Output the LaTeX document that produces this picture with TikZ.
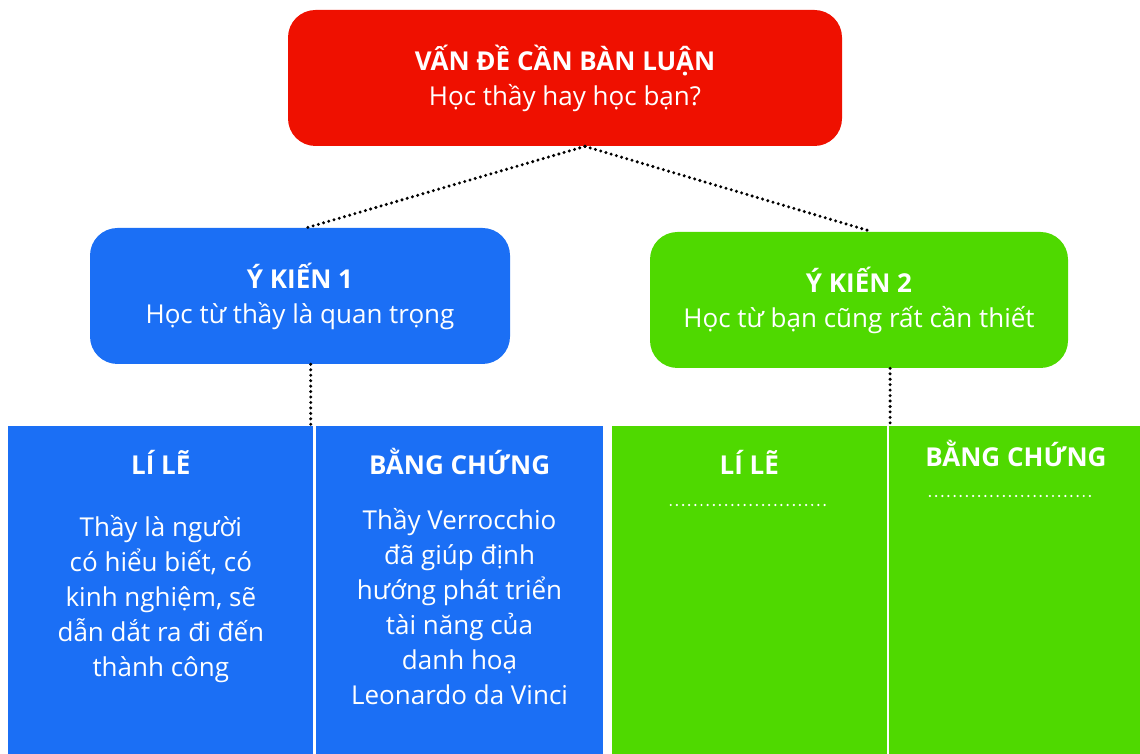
\documentclass[tikz,border=0pt]{standalone}
\usepackage{fontspec}
\setmainfont{Open Sans}
\usetikzlibrary{calc,positioning}
\definecolor{vdred}{RGB}{239,16,0}
\definecolor{ykblue}{RGB}{27,111,245}
\definecolor{ykgreen}{RGB}{79,217,0}
\newcommand{\fs}{\fontsize{14.8}{19.9}\selectfont}
\tikzset{
  qbox/.style={rectangle, rounded corners=0.55cm, fill=#1, text=white, minimum height=2.72cm, align=center, font=\fs, inner sep=0pt},
  panel/.style={rectangle, fill=#1, minimum height=6.56cm, inner sep=0pt, anchor=north west},
  head/.style={text=white, font=\fs\bfseries},
  body/.style={text=white, font=\fs, align=center, anchor=north, inner sep=0pt},
  link/.style={black, line width=1.9pt, line cap=round, dash pattern=on 0pt off 3.1pt},
  wdots/.style={white, line width=1.4pt, line cap=round, dash pattern=on 0pt off 3.5pt},
}

\begin{document}
\begin{tikzpicture}
  \useasboundingbox (0,0) rectangle (22.8,-15.08);

  % --- Top: the question ---
  \node[qbox=vdred, minimum width=11.08cm] (VD) at (11.3,-1.56)
    {\textbf{VẤN ĐỀ CẦN BÀN LUẬN}\\Học thầy hay học bạn?};

  % --- Middle: the two opinions ---
  \node[qbox=ykblue, minimum width=8.4cm] (YK1) at (6.0,-5.92)
    {\textbf{Ý KIẾN 1}\\Học từ thầy là quan trọng};
  \node[qbox=ykgreen, minimum width=8.36cm] (YK2) at (17.18,-6.0)
    {\textbf{Ý KIẾN 2}\\Học từ bạn cũng rất cần thiết};

  \draw[link] ([xshift=0.4cm]VD.south) -- ([xshift=0.14cm]YK1.north);
  \draw[link] ([xshift=0.4cm]VD.south) -- ([xshift=0.26cm]YK2.north);

  % --- Bottom: reasons and evidence ---
  \node[panel=ykblue, minimum width=6.1cm] (LL1) at (0.16,-8.52) {};
  \node[panel=ykblue, minimum width=5.74cm, right=0.04cm of LL1] (BC1) {};
  \node[panel=ykgreen, minimum width=5.5cm, right=0.16cm of BC1] (LL2) {};
  \node[panel=ykgreen, minimum width=5.06cm, right=0.04cm of LL2] (BC2) {};

  \draw[link] ([xshift=-0.06cm]YK1.south -| LL1.north east) -- ([xshift=-0.06cm]LL1.north east);
  \draw[link] ([xshift=0.06cm]YK2.south -| LL2.north east) -- ([xshift=0.06cm]LL2.north east);

  \node[head] (LL1h) at ([yshift=-0.72cm]LL1.north) {LÍ LẼ};
  \node[head] (BC1h) at ([yshift=-0.72cm]BC1.north) {BẰNG CHỨNG};
  \node[head] (LL2h) at ([yshift=-0.72cm]LL2.north) {LÍ LẼ};
  \node[head] (BC2h) at ([yshift=-0.56cm]BC2.north) {BẰNG CHỨNG};

  \node[body] (LL1t) at ([yshift=-1.78cm]LL1.north)
    {Thầy là người\\có hiểu biết, có\\kinh nghiệm, sẽ\\dẫn dắt ra đi đến\\thành công};
  \node[body] (BC1t) at ([yshift=-1.64cm]BC1.north)
    {Thầy Verrocchio\\đã giúp định\\hướng phát triển\\tài năng của\\danh hoạ\\Leonardo da Vinci};

  % empty answer lines
  \draw[wdots] ([xshift=-1.57cm,yshift=-1.58cm]LL2.north) -- ++(3.14,0);
  \draw[wdots] ([xshift=-1.72cm,yshift=-1.4cm]BC2.north) -- ++(3.32,0);
\end{tikzpicture}
\end{document}
